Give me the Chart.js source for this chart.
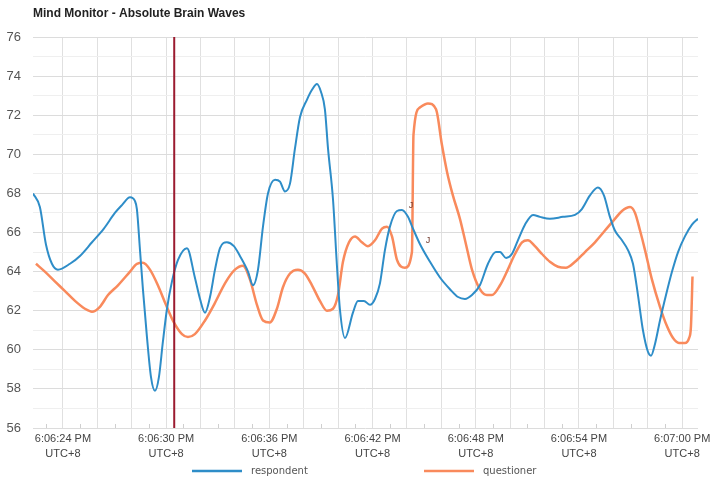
<!DOCTYPE html>
<html>
<head>
<meta charset="utf-8">
<title>Mind Monitor - Absolute Brain Waves</title>
<script src="https://cdn.jsdelivr.net/npm/chart.js@4.4.1/dist/chart.umd.min.js"></script>
<style>
  html, body { margin: 0; padding: 0; background: #fff; }
  #wrap { width: 713px; height: 479px; }
</style>
</head>
<body>
<div id="wrap"><canvas id="chartWaves" width="713" height="479"></canvas></div>
<script>
// waktu dalam detik setelah 6:06:00 PM (UTC+8)
const respondentTimes = [22.26, 22.66, 23.01, 23.36, 23.71, 24.41, 24.99, 25.69, 26.38, 27.02, 27.43, 27.90, 28.19, 28.30,
  28.48, 28.65, 28.88, 29.12, 29.35, 29.58, 29.81, 30.05, 30.34, 30.69, 31.21, 31.67, 31.97, 32.26, 32.55, 32.84,
  33.13, 33.53, 33.94, 34.29, 34.76, 35.05, 35.34, 35.63, 35.92, 36.33, 36.62, 36.91, 37.20, 37.49, 37.78, 38.19,
  38.48, 38.77, 39.00, 39.23, 39.41, 39.70, 39.93, 40.10, 40.40, 40.86, 41.15, 41.50, 41.85, 42.14, 42.43, 42.72,
  43.01, 43.42, 43.71, 44.06, 44.35, 44.76, 45.34, 45.92, 46.50, 46.97, 47.37, 47.78, 48.24, 48.71, 49.17, 49.41,
  49.76, 50.10, 50.45, 50.86, 51.33, 51.73, 52.31, 53.07, 53.77, 54.17, 54.64, 55.10, 55.45, 55.80, 56.09, 56.50,
  56.85, 57.14, 57.43, 57.72, 58.01, 58.19, 58.42, 58.71, 59.06, 59.41, 59.76, 60.16, 60.57, 60.92];
const respondentValues = [68.0, 67.3, 65.4, 64.4, 64.1, 64.4, 64.8, 65.5, 66.2, 67.0, 67.4, 67.8, 67.6, 67.2,
  65.1, 63.1, 60.7, 58.6, 57.9, 58.6, 60.4, 62.1, 63.5, 64.6, 65.2, 63.7, 62.6, 61.9, 62.7, 64.1,
  65.2, 65.5, 65.3, 64.8, 64.0, 63.3, 64.1, 66.3, 68.0, 68.7, 68.6, 68.1, 68.5, 70.3, 71.9, 72.8,
  73.3, 73.6, 73.2, 72.3, 70.3, 67.7, 64.3, 62.1, 60.6, 61.9, 62.5, 62.5, 62.3, 62.6, 63.4, 65.1,
  66.3, 67.1, 67.15, 66.8, 66.2, 65.4, 64.5, 63.7, 63.1, 62.7, 62.6, 62.8, 63.3, 64.4, 65.0, 65.0,
  64.7, 64.9, 65.6, 66.4, 66.9, 66.8, 66.7, 66.8, 66.9, 67.2, 67.9, 68.3, 67.9, 66.8, 66.1, 65.6,
  65.1, 64.4, 62.8, 61.0, 59.9, 59.7, 60.3, 61.5, 62.8, 64.0, 65.0, 65.8, 66.4, 66.7];

const questionerTimes = [22.43, 22.95, 23.53, 24.12, 24.70, 25.28, 25.69, 26.15, 26.62, 27.20, 27.90, 28.30, 28.65,
  29.06, 29.52, 29.99, 30.45, 30.92, 31.27, 31.67, 32.26, 32.84, 33.42, 34.00, 34.47, 34.87, 35.28, 35.63, 36.03,
  36.44, 36.79, 37.20, 37.66, 38.07, 38.48, 38.94, 39.35, 39.70, 39.99, 40.28, 40.63, 40.98, 41.38, 41.73, 42.14,
  42.55, 42.84, 43.13, 43.42, 43.88, 44.29, 44.38, 44.76, 45.22, 45.69, 46.03, 46.33, 46.67, 47.08, 47.43, 47.78,
  48.24, 48.65, 48.94, 49.41, 49.81, 50.28, 50.69, 51.03, 51.44, 51.85, 52.31, 52.78, 53.24, 53.77, 54.35, 54.93,
  55.51, 56.09, 56.50, 56.97, 57.26, 57.55, 57.84, 58.24, 58.71, 59.12, 59.47, 59.81, 60.16, 60.40, 60.51, 60.60];
const questionerValues = [64.4, 64.0, 63.5, 63.0, 62.5, 62.1, 61.95, 62.2, 62.8, 63.3, 64.0, 64.4, 64.45,
  64.1, 63.3, 62.3, 61.4, 60.8, 60.65, 60.8, 61.5, 62.4, 63.4, 64.1, 64.3, 63.6, 62.3, 61.5, 61.4,
  62.1, 63.2, 63.9, 64.1, 63.9, 63.3, 62.5, 62.0, 62.1, 62.8, 64.5, 65.5, 65.8, 65.5, 65.3, 65.6,
  66.2, 66.3, 65.8, 64.6, 64.2, 65.0, 71.0, 72.4, 72.6, 72.3, 70.5, 69.1, 67.9, 66.7, 65.4, 64.1,
  63.1, 62.8, 62.8, 63.3, 64.0, 64.9, 65.5, 65.6, 65.3, 64.9, 64.5, 64.25, 64.2, 64.5, 65.0, 65.5,
  66.1, 66.7, 67.1, 67.3, 67.0, 66.1, 65.1, 63.6, 62.2, 61.2, 60.6, 60.35, 60.35, 60.6, 61.2, 63.75];

const seriesNames = ['respondent', 'questioner'];
const seriesColors = ['#2e8dc8', '#f98a5c'];
const markerTime = 30.47;          // garis vertikal merah
const noteMarks = [{ t: 44.23, v: 67.4, text: 'J' }, { t: 45.22, v: 65.6, text: 'J' }];
const timeRange = [22.26, 60.92];
const valueRange = [56, 76];

function toPoints(times, values) {
  return times.map((t, i) => ({ x: t, y: values[i] }));
}

function formatTime(sec) {
  const m = 6 + Math.floor(sec / 60);
  const s = Math.round(sec % 60);
  return ['6:' + String(m).padStart(2, '0') + ':' + String(s).padStart(2, '0') + ' PM', 'UTC+8'];
}

const FONT = "'Liberation Sans', Arial, sans-serif";

// plugin: judul, garis merah, tanda kecil, legenda bawah
const extrasPlugin = {
  id: 'extras',
  afterDatasetsDraw(chart) {
    const ctx = chart.ctx;
    const xs = chart.scales.x, ys = chart.scales.y;
    const area = chart.chartArea;
    ctx.save();
    // minor tick marks (detik ganjil)
    ctx.strokeStyle = '#cfcfcf';
    ctx.lineWidth = 1;
    for (let s = Math.ceil(timeRange[0]); s <= timeRange[1]; s++) {
      if (s % 2 === 0) continue;
      const px = Math.round(xs.getPixelForValue(s)) + 0.5;
      ctx.beginPath();
      ctx.moveTo(px, area.bottom - 4);
      ctx.lineTo(px, area.bottom);
      ctx.stroke();
    }
    // red marker line
    const mx = xs.getPixelForValue(markerTime);
    ctx.strokeStyle = '#9b1b30';
    ctx.lineWidth = 2;
    ctx.beginPath();
    ctx.moveTo(mx, area.top);
    ctx.lineTo(mx, area.bottom);
    ctx.stroke();
    // small note marks
    ctx.fillStyle = '#6e3426';
    ctx.font = "9px 'Liberation Sans', sans-serif";
    ctx.textAlign = 'center';
    ctx.textBaseline = 'middle';
    noteMarks.forEach(n => {
      ctx.fillText(n.text, xs.getPixelForValue(n.t), ys.getPixelForValue(n.v));
    });
    // title
    ctx.fillStyle = '#222';
    ctx.font = "bold 12px " + FONT;
    ctx.textAlign = 'left';
    ctx.fillText('Mind Monitor - Absolute Brain Waves', area.left, 14);
    // legend
    const legendY = 471;
    const legendX = [192, 424];
    ctx.font = "10px 'DejaVu Sans', sans-serif";
    chart.data.datasets.forEach((ds, i) => {
      ctx.strokeStyle = ds.borderColor;
      ctx.lineWidth = 2.5;
      ctx.beginPath();
      ctx.moveTo(legendX[i], legendY);
      ctx.lineTo(legendX[i] + 50, legendY);
      ctx.stroke();
      ctx.fillStyle = '#555';
      ctx.fillText(ds.label, legendX[i] + 59, legendY);
    });
    ctx.restore();
  }
};

const ctxWaves = document.getElementById('chartWaves').getContext('2d');
const wavesChart = new Chart(ctxWaves, {
  type: 'line',
  data: {
    datasets: [
      {
        label: seriesNames[0],
        data: toPoints(respondentTimes, respondentValues),
        borderColor: seriesColors[0],
        backgroundColor: seriesColors[0],
        borderWidth: 2,
        pointRadius: 0,
        cubicInterpolationMode: 'monotone',
        fill: false
      },
      {
        label: seriesNames[1],
        data: toPoints(questionerTimes, questionerValues),
        borderColor: seriesColors[1],
        backgroundColor: seriesColors[1],
        borderWidth: 2.5,
        pointRadius: 0,
        cubicInterpolationMode: 'monotone',
        fill: false
      }
    ]
  },
  options: {
    responsive: false,
    animation: false,
    layout: { padding: { top: 37, right: 15, left: 0, bottom: 0 } },
    plugins: {
      legend: { display: false },
      title: { display: false },
      tooltip: { enabled: false }
    },
    scales: {
      x: {
        type: 'linear',
        min: timeRange[0],
        max: timeRange[1],
        border: { display: false },
        afterBuildTicks: (scale) => {
          const ticks = [{ value: timeRange[0] }];
          for (let s = 24; s <= 60; s += 2) ticks.push({ value: s });
          ticks.push({ value: timeRange[1] });
          scale.ticks = ticks;
        },
        afterFit: (scale) => { scale.height = 51; },
        grid: {
          drawTicks: false,
          color: (c) => (c.tick && Number.isInteger(c.tick.value)) ? '#e0e0e0' : 'rgba(0,0,0,0)'
        },
        ticks: {
          autoSkip: false,
          maxRotation: 0,
          padding: 3,
          color: '#444',
          font: { family: FONT, size: 11, lineHeight: 1.4 },
          callback: (v) => (Number.isInteger(v) && v % 6 === 0) ? formatTime(v) : ''
        }
      },
      y: {
        min: valueRange[0],
        max: valueRange[1],
        border: { display: false },
        afterFit: (scale) => { scale.width = 33; },
        grid: {
          drawTicks: false,
          color: (c) => (c.tick && c.tick.value % 2 === 0) ? '#dcdcdc' : '#efefef'
        },
        ticks: {
          stepSize: 1,
          padding: 12,
          color: '#555',
          font: { family: FONT, size: 13 },
          callback: (v) => v % 2 === 0 ? v : ''
        }
      }
    }
  },
  plugins: [extrasPlugin]
});
</script>
</body>
</html>
